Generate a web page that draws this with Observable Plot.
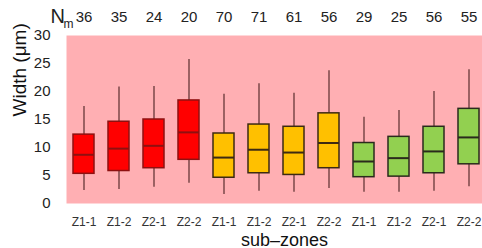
<!DOCTYPE html>
<html>
<head>
<meta charset="utf-8">
<script src="https://cdn.jsdelivr.net/npm/d3@7"></script>
<script src="https://cdn.jsdelivr.net/npm/@observablehq/plot@0.6"></script>
<style>
  html, body { margin: 0; padding: 0; background: white; overflow: hidden; }
</style>
</head>
<body>
<div id="chart"></div>
<script>
// Colour groups (red, orange, green) and their sub-zones
const groups = ["A", "A", "A", "A", "B", "B", "B", "B", "C", "C", "C", "C"];
const subzones = ["Z1-1", "Z1-2", "Z2-1", "Z2-2", "Z1-1", "Z1-2", "Z2-1", "Z2-2", "Z1-1", "Z1-2", "Z2-1", "Z2-2"];
const counts = [36, 35, 24, 20, 70, 71, 61, 56, 29, 25, 56, 55];
const whiskerLow = [2.3, 2.5, 2.9, 3.6, 1.6, 2.2, 2.0, 2.7, 2.0, 2.0, 2.2, 3.0];
const q1 = [5.3, 5.8, 6.3, 7.8, 4.6, 5.4, 5.1, 6.3, 4.7, 4.8, 5.4, 7.0];
const median = [8.7, 9.8, 10.3, 12.7, 8.2, 9.6, 9.1, 10.8, 7.5, 8.1, 9.3, 11.8];
const q3 = [12.3, 14.6, 15.0, 18.4, 12.5, 14.1, 13.7, 16.1, 10.8, 11.9, 13.7, 16.9];
const whiskerHigh = [17.3, 20.8, 20.9, 25.7, 19.5, 21.4, 19.7, 23.7, 15.4, 16.6, 20.0, 23.9];
const yTicks = [0, 5, 10, 15, 20, 25, 30];

const groupNames = ["A", "B", "C"];
const fills = {A: "#FF0000", B: "#FFC000", C: "#92D050"};
const strokes = {A: "#8E1010", B: "#3D2A12", C: "#2A2A1C"};

const data = subzones.map((s, i) => ({
  id: i, group: groups[i], sub: s, n: counts[i],
  lo: whiskerLow[i], q1: q1[i], med: median[i], q3: q3[i], hi: whiskerHigh[i]
}));
const ids = data.map(d => d.id);

const boxMarks = groupNames.flatMap(g => {
  const dg = data.filter(d => d.group === g);
  return [
    Plot.barY(dg, {x: "id", y1: "q1", y2: "q3", fill: fills[g], stroke: strokes[g], strokeWidth: 1.5}),
    Plot.tickY(dg, {x: "id", y: "med", stroke: strokes[g], strokeWidth: 2})
  ];
});

const chart = Plot.plot({
  width: 482,
  height: 248,
  marginLeft: 66,
  marginRight: -4,
  marginTop: 35,
  marginBottom: 45,
  style: {fontFamily: "'Liberation Sans', Arial, sans-serif", background: "white", overflow: "visible"},
  x: {type: "band", domain: ids, paddingInner: 0.4, paddingOuter: 0.2},
  y: {domain: [0, 30]},
  marks: [
    Plot.frame({fill: "#FFAFB3", stroke: null}),
    Plot.ruleX(data, {x: "id", y1: "lo", y2: "hi", stroke: "#4A2222", strokeWidth: 1.1}),
    ...boxMarks,
    Plot.axisX({tickSize: 0, tickPadding: 14, tickFormat: i => subzones[i], fontSize: 12,
      fill: "#333", label: null}),
    Plot.axisY({ticks: yTicks, tickSize: 0, tickPadding: 16, fontSize: 15, fill: "#222", label: null}),
    Plot.text(["sub\u2013zones"], {frameAnchor: "bottom", lineAnchor: "bottom", dx: 8, dy: 42, fontSize: 18, fill: "#111"}),
    Plot.text(["Width (\u03bcm)"], {frameAnchor: "left", rotate: -90, lineAnchor: "middle", dx: -47, dy: -3, fontSize: 19, fill: "#111"}),
    Plot.text(data, {x: "id", text: "n", frameAnchor: "top", lineAnchor: "bottom", dy: -14, fontSize: 15, fill: "#222"}),
    Plot.text(["N"], {frameAnchor: "top-left", textAnchor: "start", lineAnchor: "bottom", dx: -16, dy: -13, fontSize: 20, fill: "#222"}),
    Plot.text(["m"], {frameAnchor: "top-left", textAnchor: "start", lineAnchor: "bottom", dx: -3, dy: -8, fontSize: 12, fill: "#222"})
  ]
});
document.getElementById("chart").append(chart);
</script>
</body>
</html>
